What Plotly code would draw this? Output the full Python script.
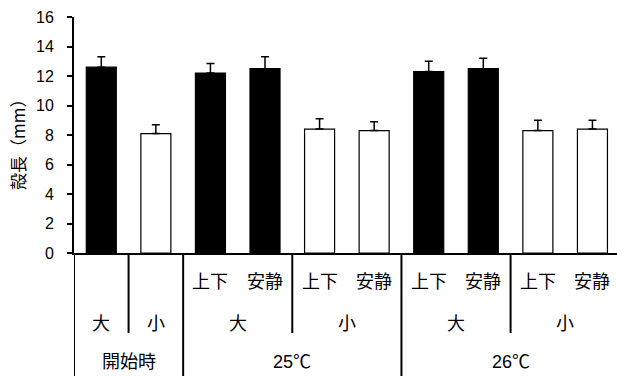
import plotly.graph_objects as go

# Shell length by treatment: start, 25℃ and 26℃ rearing, large/small shells, agitation vs. still
conditions = ["開始時", "開始時", "25℃", "25℃", "25℃", "25℃", "26℃", "26℃", "26℃", "26℃"]
sizes = ["大", "小", "大", "大", "小", "小", "大", "大", "小", "小"]
treatments = ["", "", "上下", "安静", "上下", "安静", "上下", "安静", "上下", "安静"]
means = [12.6, 8.1, 12.2, 12.5, 8.4, 8.3, 12.3, 12.5, 8.3, 8.4]
errors = [0.7, 0.6, 0.65, 0.8, 0.7, 0.6, 0.7, 0.7, 0.7, 0.6]
y_ticks = [0, 2, 4, 6, 8, 10, 12, 14, 16]

size_fill = {"大": "black", "小": "white"}
xpos = list(range(len(means)))

CJK = "Noto Sans CJK JP"
LAT = "Liberation Sans, Noto Sans CJK JP"

# pixel geometry of the plot area
W, H = 617, 376
top_px, base_px = 17, 253
plot_h = base_px - top_px


def py(px):
    """paper y for a pixel row"""
    return (base_px - px) / plot_h


fig = go.Figure(
    go.Bar(
        x=xpos,
        y=means,
        width=0.55,
        marker=dict(color=[size_fill[s] for s in sizes],
                    line=dict(color="black", width=1.2)),
        error_y=dict(type="data", array=errors, arrayminus=[0] * len(errors),
                     symmetric=False, color="black", thickness=1.5, width=4),
        showlegend=False,
    )
)

shapes = []
annotations = []

row2_bottom = py(333)
table_bottom = py(376)

# left edge of the table under the y-axis
shapes.append(dict(type="line", xref="x", yref="paper", x0=-0.5, x1=-0.5,
                   y0=0, y1=table_bottom, line=dict(color="black", width=2)))

# vertical separators between neighbouring bars
for i in range(1, len(xpos)):
    if conditions[i] != conditions[i - 1]:
        y1 = table_bottom
    elif sizes[i] != sizes[i - 1]:
        y1 = row2_bottom
    else:
        continue
    xb = (xpos[i] + xpos[i - 1]) / 2
    shapes.append(dict(type="line", xref="x", yref="paper", x0=xb, x1=xb,
                       y0=0, y1=y1, line=dict(color="black", width=2)))


def label(x, ypx, text, family, size=18):
    annotations.append(dict(x=x, y=py(ypx), xref="x", yref="paper", text=text,
                            xanchor="center", yanchor="middle", showarrow=False,
                            font=dict(family=family, size=size, color="black")))


# row 1: treatment under each bar
for x, t in zip(xpos, treatments):
    if t:
        label(x, 280, t, CJK)


def spans(keys):
    out = []
    start = 0
    for i in range(1, len(keys) + 1):
        if i == len(keys) or keys[i] != keys[start]:
            out.append((start, i - 1))
            start = i
    return out


# row 2: shell size, merged over consecutive bars
pairs = list(zip(conditions, sizes))
for a, b in spans(pairs):
    label((xpos[a] + xpos[b]) / 2, 322, sizes[a], CJK)

# row 3: condition
for a, b in spans(conditions):
    label((xpos[a] + xpos[b]) / 2, 362, conditions[a], LAT)

# y-axis title
annotations.append(dict(x=(17 - 74) / (W - 74), y=py(141), xref="paper", yref="paper",
                        xanchor="center", yanchor="middle",
                        text="殻長（mm）", textangle=-90, showarrow=False,
                        font=dict(family=CJK, size=17, color="black")))

fig.update_layout(
    width=W, height=H,
    margin=dict(l=74, r=0, t=top_px, b=H - base_px, pad=0),
    paper_bgcolor="white", plot_bgcolor="white",
    shapes=shapes, annotations=annotations,
    xaxis=dict(range=[-0.5, 9.45], showticklabels=False, ticks="", showgrid=False,
               zeroline=False, showline=True, linecolor="black", linewidth=2),
    yaxis=dict(range=[0, 16], tickvals=y_ticks, ticks="outside", ticklen=5, tickwidth=1.5,
               tickcolor="black", showgrid=False, zeroline=False, showline=True,
               linecolor="black", linewidth=2, ticklabelstandoff=10,
               tickfont=dict(family=LAT, size=16, color="black")),
)

fig.write_html("out.html")
